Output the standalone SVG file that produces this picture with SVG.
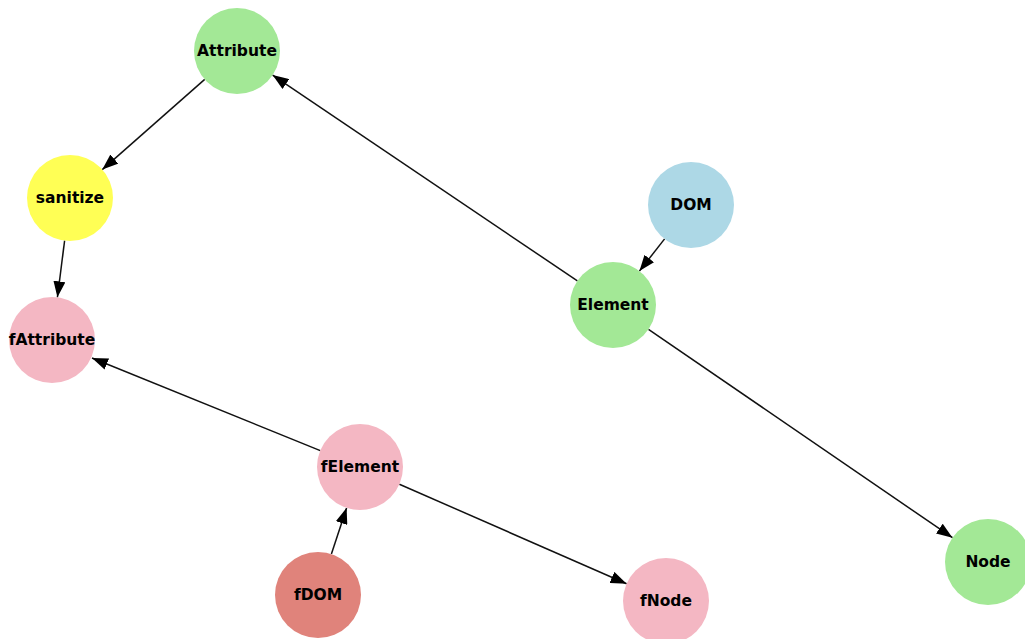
<svg xmlns="http://www.w3.org/2000/svg" width="1025" height="639" viewBox="0 0 1025 639">
<defs>
<marker id="arr" markerUnits="userSpaceOnUse" viewBox="0 0 16 12" markerWidth="16" markerHeight="12" refX="16" refY="6" orient="auto">
<path d="M0,0 L16,6 L0,12 z" fill="#000"/>
</marker>
<style>
.e{stroke:#111;stroke-width:1.5;fill:none;marker-end:url(#arr)}
.t{font-family:"DejaVu Sans",sans-serif;font-weight:bold;font-size:15.5px;fill:#000;text-anchor:middle;dominant-baseline:central}
.g{fill:#a3e896}.y{fill:#ffff55}.b{fill:#add8e6}.p{fill:#f4b7c3}.s{fill:#e0837b}
</style>
</defs>
<rect width="1025" height="639" fill="#fff"/>
<g id="edges">
<line class="e" x1="204.7" y1="79.4" x2="102.3" y2="169.6"/>
<line class="e" x1="577.4" y1="280.9" x2="272.6" y2="75.1"/>
<line class="e" x1="664.6" y1="238.9" x2="639.4" y2="271.1"/>
<line class="e" x1="64.6" y1="240.7" x2="57.4" y2="297.3"/>
<line class="e" x1="320.3" y1="450.6" x2="92" y2="358"/>
<line class="e" x1="399.4" y1="484.2" x2="626.6" y2="583.8"/>
<line class="e" x1="331.4" y1="554.1" x2="346.6" y2="507.9"/>
<line class="e" x1="648.5" y1="329.3" x2="952.5" y2="537.7"/>
</g>
<g id="Attribute"><circle class="g" cx="237" cy="51" r="43"/><text class="t" x="237" y="51">Attribute</text></g>
<g id="sanitize"><circle class="y" cx="70" cy="198" r="43"/><text class="t" x="70" y="198">sanitize</text></g>
<g id="fAttribute"><circle class="p" cx="52" cy="340" r="43"/><text class="t" x="52" y="340">fAttribute</text></g>
<g id="DOM"><circle class="b" cx="691" cy="205" r="43"/><text class="t" x="691" y="205">DOM</text></g>
<g id="Element"><circle class="g" cx="613" cy="305" r="43"/><text class="t" x="613" y="305">Element</text></g>
<g id="fElement"><circle class="p" cx="360" cy="467" r="43"/><text class="t" x="360" y="467">fElement</text></g>
<g id="fDOM"><circle class="s" cx="318" cy="595" r="43"/><text class="t" x="318" y="595">fDOM</text></g>
<g id="fNode"><circle class="p" cx="666" cy="601" r="43"/><text class="t" x="666" y="601">fNode</text></g>
<g id="Node"><circle class="g" cx="988" cy="562" r="43"/><text class="t" x="988" y="562">Node</text></g>
</svg>
